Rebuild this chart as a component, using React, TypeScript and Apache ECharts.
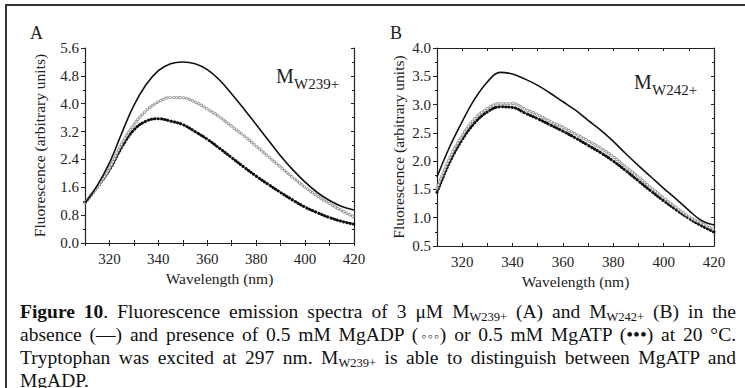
import React, { useEffect, useRef } from "react";
import * as echarts from "echarts";

// Wavelength grid (nm)
const wavelengths = [310, 315, 320, 325, 330, 335, 340, 345, 350, 355, 360, 365, 370, 375, 380, 385, 390, 395, 400, 405, 410, 415, 420];

// Panel A: M_W239+
const apoA = [1.15, 1.65, 2.3, 3.15, 3.95, 4.55, 4.95, 5.15, 5.2, 5.15, 4.98, 4.68, 4.28, 3.85, 3.4, 2.95, 2.5, 2.1, 1.75, 1.45, 1.22, 1.05, 0.95];
const adpA = [1.15, 1.6, 2.15, 2.85, 3.4, 3.8, 4.05, 4.18, 4.17, 4.05, 3.85, 3.62, 3.35, 3.08, 2.78, 2.48, 2.18, 1.88, 1.6, 1.35, 1.13, 0.93, 0.75];
const atpA = [1.15, 1.6, 2.1, 2.75, 3.25, 3.5, 3.57, 3.5, 3.4, 3.2, 2.98, 2.72, 2.45, 2.18, 1.92, 1.68, 1.45, 1.23, 1.03, 0.87, 0.73, 0.62, 0.54];

// Panel B: M_W242+
const apoB = [1.72, 2.25, 2.7, 3.1, 3.4, 3.57, 3.54, 3.45, 3.34, 3.2, 3.05, 2.9, 2.72, 2.55, 2.35, 2.13, 1.92, 1.72, 1.52, 1.33, 1.13, 0.95, 0.87];
const adpB = [1.52, 2.05, 2.45, 2.75, 2.93, 3.02, 3.02, 2.92, 2.82, 2.7, 2.6, 2.48, 2.36, 2.23, 2.08, 1.9, 1.72, 1.53, 1.35, 1.18, 1.02, 0.9, 0.79];
const atpB = [1.45, 1.98, 2.38, 2.68, 2.87, 2.96, 2.95, 2.85, 2.75, 2.64, 2.53, 2.41, 2.28, 2.15, 2.0, 1.83, 1.65, 1.47, 1.3, 1.14, 0.99, 0.86, 0.75];

const xRange = { min: 310, max: 420, step: 10, labelStep: 20 };
const yRangeA = { min: 0, max: 5.6, step: 0.8 };
const yRangeB = { min: 0.5, max: 4.0, step: 0.5 };

const panelLabels = ["A", "B"];
const yTitle = "Fluorescence (arbitrary units)";
const xTitle = "Wavelength (nm)";
const subA = "W239+";
const subB = "W242+";

const FONT = '"Liberation Serif", "DejaVu Serif", "Times New Roman", Times, serif';

const pairs = (ys: number[]) => wavelengths.map((w, i) => [w, ys[i]]);

function App() {
  const ref = useRef<HTMLDivElement>(null);

  useEffect(() => {
    if (!ref.current) return;
    const chart = echarts.init(ref.current, null, { renderer: "svg" });

    const lineC = "#222";
    const xBottom = (gridIndex: number, nameGap: number) => ({
      type: "value",
      gridIndex,
      position: "bottom",
      min: xRange.min,
      max: xRange.max,
      interval: xRange.step,
      name: xTitle,
      nameLocation: "middle",
      nameGap,
      nameTextStyle: { fontFamily: FONT, fontSize: 15.5, color: "#222" },
      axisLine: { show: true, lineStyle: { color: lineC, width: 1.2 } },
      axisTick: { show: true, inside: true, length: 3, lineStyle: { color: lineC } },
      axisLabel: {
        margin: 8,
        fontFamily: FONT,
        fontSize: 15,
        color: "#222",
        formatter: (v: number) => (v % xRange.labelStep === 0 ? String(v) : ""),
      },
      splitLine: { show: false },
    });
    const xTop = (gridIndex: number) => ({
      type: "value",
      gridIndex,
      position: "top",
      min: xRange.min,
      max: xRange.max,
      interval: xRange.step,
      axisLine: { show: true, lineStyle: { color: lineC, width: 1.2 } },
      axisTick: { show: true, inside: true, length: 3, lineStyle: { color: lineC } },
      axisLabel: { show: false },
      splitLine: { show: false },
    });
    const yLeft = (gridIndex: number, r: any, nameGap: number) => ({
      type: "value",
      gridIndex,
      position: "left",
      min: r.min,
      max: r.max,
      interval: r.step,
      name: yTitle,
      nameLocation: "middle",
      nameGap,
      nameTextStyle: { fontFamily: FONT, fontSize: 15.5, color: "#222" },
      axisLine: { show: true, lineStyle: { color: lineC, width: 1.2 } },
      axisTick: { show: true, inside: false, length: 4, lineStyle: { color: lineC } },
      minorTick: { show: true, splitNumber: 2, length: 2, lineStyle: { color: lineC } },
      axisLabel: {
        margin: 6,
        fontFamily: FONT,
        fontSize: 15,
        color: "#222",
        formatter: (v: number) => v.toFixed(1),
      },
      splitLine: { show: false },
    });
    const yRight = (gridIndex: number, r: any) => ({
      type: "value",
      gridIndex,
      position: "right",
      min: r.min,
      max: r.max,
      interval: r.step,
      axisLine: { show: true, lineStyle: { color: lineC, width: 1.2 } },
      axisTick: { show: true, inside: true, length: 3, lineStyle: { color: lineC } },
      minorTick: { show: true, splitNumber: 2, length: 2, lineStyle: { color: lineC } },
      axisLabel: { show: false },
      splitLine: { show: false },
    });

    const solid = (data: number[], xi: number, yi: number) => ({
      type: "line",
      xAxisIndex: xi,
      yAxisIndex: yi,
      data: pairs(data),
      smooth: 0.4,
      symbol: "none",
      z: 4,
      lineStyle: { color: "#111", width: 1.6 },
    });
    const dots = (data: number[], xi: number, yi: number, color: string, width: number, z: number) => ({
      type: "line",
      xAxisIndex: xi,
      yAxisIndex: yi,
      data: pairs(data),
      smooth: 0.4,
      symbol: "none",
      z,
      lineStyle: { color, width, type: [0.4, 2.9], cap: "round" },
    });

    chart.setOption({
      animation: false,
      backgroundColor: "#ffffff",
      grid: [
        { left: 85, top: 48, width: 269, height: 195, containLabel: false },
        { left: 437, top: 48, width: 277, height: 198, containLabel: false },
      ],
      xAxis: [xBottom(0, 21), xTop(0), xBottom(1, 20), xTop(1)],
      yAxis: [yLeft(0, yRangeA, 38), yRight(0, yRangeA), yLeft(1, yRangeB, 31), yRight(1, yRangeB)],
      series: [
        dots(atpA, 0, 0, "#111", 3, 2),
        dots(adpA, 0, 0, "#999", 3.1, 3),
        dots(adpA, 0, 0, "#ffffff", 1.3, 3),
        solid(apoA, 0, 0),
        dots(atpB, 2, 2, "#111", 3, 2),
        dots(adpB, 2, 2, "#999", 3.1, 3),
        dots(adpB, 2, 2, "#ffffff", 1.3, 3),
        solid(apoB, 2, 2),
      ],
      graphic: [
        { type: "line", shape: { x1: 5.5, y1: 5, x2: 745, y2: 5 }, style: { stroke: "#333", lineWidth: 2 } },
        { type: "line", shape: { x1: 6, y1: 4, x2: 6, y2: 388 }, style: { stroke: "#333", lineWidth: 2 } },
        { type: "text", x: 30, y: 33, style: { text: panelLabels[0], font: `18px ${FONT}`, fill: "#222", verticalAlign: "middle" } },
        { type: "text", x: 390, y: 33, style: { text: panelLabels[1], font: `18px ${FONT}`, fill: "#222", verticalAlign: "middle" } },
        { type: "text", x: 276, y: 76, style: { text: "M", font: `20px ${FONT}`, fill: "#222", verticalAlign: "middle" } },
        { type: "text", x: 294, y: 84, style: { text: subA, font: `15px ${FONT}`, fill: "#222", verticalAlign: "middle" } },
        { type: "text", x: 634, y: 82, style: { text: "M", font: `20px ${FONT}`, fill: "#222", verticalAlign: "middle" } },
        { type: "text", x: 652, y: 90, style: { text: subB, font: `15px ${FONT}`, fill: "#222", verticalAlign: "middle" } },
      ],
    });

    return () => chart.dispose();
  }, []);

  const lineStyle: React.CSSProperties = {
    textAlign: "justify",
    textAlignLast: "justify",
    whiteSpace: "normal",
    height: 23,
    lineHeight: "23px",
  };
  const sub: React.CSSProperties = { fontSize: 12.5, verticalAlign: "-3px", lineHeight: 0 };

  return (
    <div style={{ position: "fixed", left: 0, top: 0, width: 745, height: 388, background: "#fff", overflow: "hidden" }}>
      <div ref={ref} style={{ position: "absolute", left: 0, top: 0, width: 745, height: 388 }} />
      <div
        style={{
          position: "absolute",
          left: 20,
          top: 300,
          width: 716,
          fontFamily: FONT,
          fontSize: 19.5,
          color: "#111",
        }}
      >
        <div style={lineStyle}>
          <b>Figure 10</b>. Fluorescence emission spectra of 3 μM M<span style={sub}>W239+</span> (A) and M
          <span style={sub}>W242+</span> (B) in the
        </div>
        <div style={lineStyle}>
          absence (—) and presence of 0.5 mM MgADP (<span style={{ fontSize: "0.7em", letterSpacing: "-0.12em" }}>◦◦◦</span>) or 0.5 mM MgATP (•••) at 20 °C.
        </div>
        <div style={lineStyle}>
          Tryptophan was excited at 297 nm. M<span style={sub}>W239+</span> is able to distinguish between MgATP and
        </div>
        <div style={{ ...lineStyle, textAlignLast: "left" }}>MgADP.</div>
      </div>
    </div>
  );
}

export default App;
